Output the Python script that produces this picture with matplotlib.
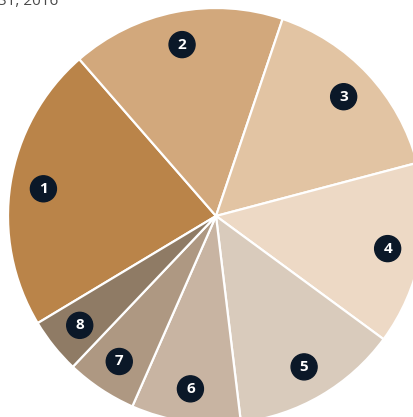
import matplotlib.pyplot as plt
from matplotlib.patches import Circle
import numpy as np

# share of each slice (%)
labels = ['1', '2', '3', '4', '5', '6', '7', '8']
shares = [22.2, 16.6, 15.7, 14.2, 13.0, 8.5, 5.5, 4.3]
colors = ['#BA8449', '#D2A87C', '#E2C4A3', '#EDD9C5',
          '#D9CBBC', '#C8B4A2', '#AE9882', '#8F7B65']

W, H = 414, 417
fig = plt.figure(figsize=(W / 100, H / 100), dpi=100)

# pie centre at (216, 216) px from top-left, radius ~208 px
cx, cy, r = 216, 216, 208
ax = fig.add_axes([(cx - r) / W, (H - cy - r) / H, 2 * r / W, 2 * r / H])

wedges, _ = ax.pie(shares, colors=colors, startangle=211, counterclock=False,
                   radius=1, wedgeprops=dict(edgecolor='white', linewidth=1.6))
ax.set_xlim(-1, 1)
ax.set_ylim(-1, 1)
ax.axis('off')

for w, lab in zip(wedges, labels):
    mid = np.deg2rad((w.theta1 + w.theta2) / 2)
    x, y = 0.84 * np.cos(mid), 0.84 * np.sin(mid)
    ax.add_patch(Circle((x, y), 13 / r, color='#0B1828', zorder=3))
    ax.text(x, y, lab, color='white', fontsize=11, fontweight='bold',
            family='Open Sans', ha='center', va='center', zorder=4)

fig.text(-0.005, 1 - 5 / H, '31, 2016', color='#4a4a4a', fontsize=11,
         family='Open Sans', ha='left', va='baseline')

fig.savefig('out.png', dpi=100)
